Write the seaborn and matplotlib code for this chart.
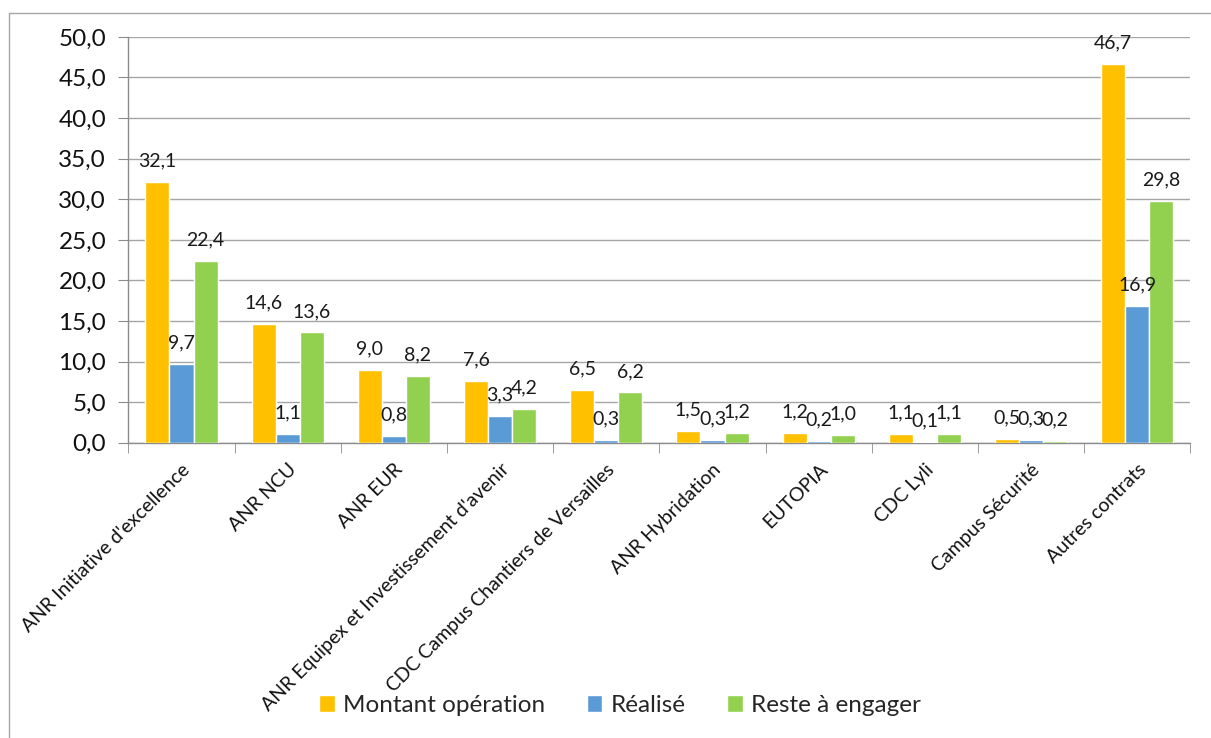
import matplotlib
matplotlib.use('Agg')
import matplotlib.pyplot as plt
import pandas as pd
import seaborn as sns
from matplotlib.lines import Line2D
from matplotlib.ticker import FuncFormatter

# Data
categories = ["ANR Initiative d'excellence", 'ANR NCU', 'ANR EUR',
              "ANR Equipex et Investissement d'avenir",
              'CDC Campus Chantiers de Versailles', 'ANR Hybridation',
              'EUTOPIA', 'CDC Lyli', 'Campus Sécurité', 'Autres contrats']
series = ['Montant opération', 'Réalisé', 'Reste à engager']
montant = [32.1, 14.6, 9.0, 7.6, 6.5, 1.5, 1.2, 1.1, 0.5, 46.7]
realise = [9.7, 1.1, 0.8, 3.3, 0.3, 0.3, 0.2, 0.1, 0.3, 16.9]
reste = [22.4, 13.6, 8.2, 4.2, 6.2, 1.2, 1.0, 1.1, 0.2, 29.8]
colors = ['#FFC000', '#5B9BD5', '#92D050']

df = pd.DataFrame({
    'Projet': categories * 3,
    'Serie': [s for s in series for _ in categories],
    'Valeur': montant + realise + reste,
})

sns.set_style('white')
plt.rcParams['font.family'] = ['Lato', 'DejaVu Sans']

fig = plt.figure(figsize=(12.11, 7.38), dpi=100)
ax = fig.add_axes([0.106, 0.40, 0.877, 0.55])

sns.barplot(data=df, x='Projet', y='Valeur', hue='Serie', order=categories,
            hue_order=series, palette=colors, width=0.68, saturation=1,
            errorbar=None, ax=ax, zorder=3)

comma = lambda v: f'{v:.1f}'.replace('.', ',')
for cont in ax.containers:
    ax.bar_label(cont, labels=[comma(b.get_height()) for b in cont],
                 padding=9, fontsize=14, color='#1a1a1a')

ax.set_ylim(0, 50)
ax.set_yticks(range(0, 51, 5))
ax.yaxis.set_major_formatter(FuncFormatter(lambda v, p: comma(v)))
ax.tick_params(axis='y', labelsize=17.5, length=7, color='#8c8c8c',
               labelcolor='#111111', left=True, pad=9)
ax.grid(axis='y', color='#a6a6a6', lw=1, zorder=0)
ax.set_axisbelow(True)

ax.set_xlim(-0.5, len(categories) - 0.5)
ax.set_xticks(range(len(categories)))
ax.set_xticklabels(categories, rotation=45, ha='right',
                   rotation_mode='anchor', fontsize=14, color='#111111')
ax.set_xticks([i + 0.5 for i in range(-1, len(categories))], minor=True)
ax.tick_params(axis='x', which='major', length=0, pad=13)
ax.tick_params(axis='x', which='minor', length=7, color='#8c8c8c',
               bottom=True)
ax.set_xlabel('')
ax.set_ylabel('')

for side in ['top', 'right']:
    ax.spines[side].set_visible(False)
for side in ['left', 'bottom']:
    ax.spines[side].set_color('#8c8c8c')
    ax.spines[side].set_linewidth(1)

ax.legend(loc='lower center', bbox_to_anchor=(0.512, 0.0),
          bbox_transform=fig.transFigure, ncol=3, frameon=False,
          fontsize=17.5, handlelength=0.65, handleheight=0.65,
          handletextpad=0.35, columnspacing=1.7)

# outer chart border (only left and top edges are visible in the frame)
x0, y0 = 8.5 / 1211, 1 - 12.5 / 738
fig.add_artist(Line2D([x0, x0], [0, y0], transform=fig.transFigure,
                      color='#a6a6a6', lw=1))
fig.add_artist(Line2D([x0, 1], [y0, y0], transform=fig.transFigure,
                      color='#a6a6a6', lw=1))

fig.savefig('out.png', dpi=100)
